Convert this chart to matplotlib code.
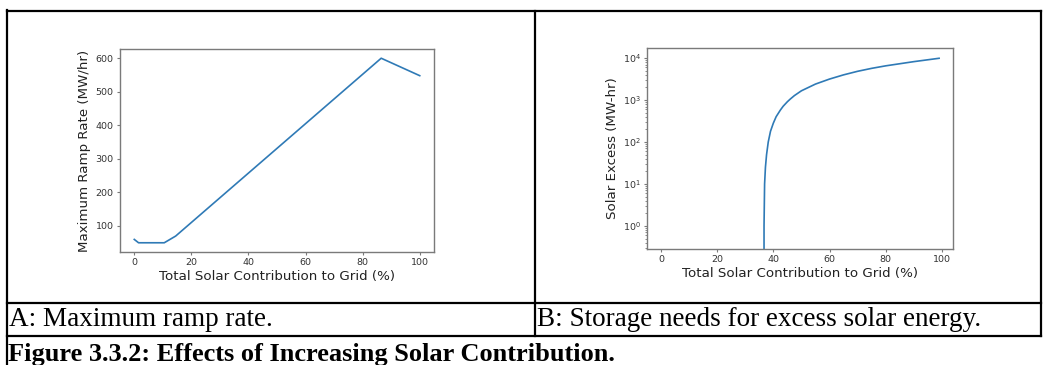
import numpy as np
import matplotlib.pyplot as plt
from matplotlib.lines import Line2D

# ramp rate vs. solar share (breakpoints of the piecewise curve)
ramp_share = [0, 1.5, 10.5, 14.5, 86.5, 100]
ramp_rate = [60, 50, 50, 70, 600, 548]

# solar excess vs. solar share (zero below ~36.6 %)
excess_share = [0, 36.6, 36.7, 36.9, 37.2, 37.6, 38.2, 39, 40, 41, 42.5,
                43.5, 45, 46, 47.5, 50, 55, 60, 65, 70, 75, 80, 90, 99]
excess_mwh = [0, 0, 1, 10, 25, 50, 100, 180, 280, 400, 575,
              710, 910, 1050, 1275, 1660, 2400, 3160, 3980, 4840, 5690,
              6530, 8220, 9890]

caption_a = 'A: Maximum ramp rate.'
caption_b = 'B: Storage needs for excess solar energy.'
fig_title = 'Figure 3.3.2: Effects of Increasing Solar Contribution.'

W, H = 1043, 365
fig = plt.figure(figsize=(W / 100, H / 100), dpi=100)

line_color = '#2f7ab6'
spine_color = '#7a7a7a'
label_kw = dict(fontsize=9.6, color='#222222')


def style(ax):
    for s in ax.spines.values():
        s.set_color(spine_color)
        s.set_linewidth(1.0)
    ax.tick_params(colors=spine_color, labelcolor='#333333', labelsize=6.8,
                   length=2.5, width=0.8, pad=2)
    ax.tick_params(which='minor', colors=spine_color, length=1.5, width=0.6)


def box(left, top, right, bottom):
    return [left / W, 1 - bottom / H, (right - left) / W, (bottom - top) / H]


# A: maximum ramp rate
ax1 = fig.add_axes(box(120, 49, 434, 252))
ax1.plot(ramp_share, ramp_rate, color=line_color, lw=1.2)
ax1.set_xlim(-5, 105)
ax1.set_ylim(22.5, 627.5)
ax1.set_xticks([0, 20, 40, 60, 80, 100])
ax1.set_yticks([100, 200, 300, 400, 500, 600])
ax1.set_xlabel('Total Solar Contribution to Grid (%)', labelpad=2, **label_kw)
ax1.set_ylabel('Maximum Ramp Rate (MW/hr)', labelpad=3, **label_kw)
style(ax1)

# B: solar excess on a log axis
ax2 = fig.add_axes(box(647, 48, 953, 249))
ax2.plot(excess_share, excess_mwh, color=line_color, lw=1.2)
ax2.set_yscale('log', nonpositive='clip')
ax2.set_xlim(-4.95, 103.95)
ax2.set_ylim(10 ** -0.55, 10 ** 4.24)
ax2.set_xticks([0, 20, 40, 60, 80, 100])
ax2.set_xlabel('Total Solar Contribution to Grid (%)', labelpad=2, **label_kw)
ax2.set_ylabel('Solar Excess (MW-hr)', labelpad=3, **label_kw)
style(ax2)

# table frame and captions drawn in pixel coordinates
frame = fig.add_axes([0, 0, 1, 1], zorder=-1)
frame.set_xlim(0, W)
frame.set_ylim(H, 0)
frame.axis('off')

rules = [
    ((7, 1041), (11, 11)),
    ((7, 1041), (303, 303)),
    ((7, 1041), (336, 336)),
    ((7, 7), (10, 365)),
    ((535, 535), (11, 336)),
    ((1041, 1041), (11, 336)),
]
for xs, ys in rules:
    frame.add_line(Line2D(xs, ys, color='black', lw=1.6,
                          solid_capstyle='projecting'))

frame.text(9, 320, caption_a, family='Liberation Serif', fontsize=19.5,
           va='center', ha='left')
frame.text(537, 320, caption_b, family='Liberation Serif', fontsize=19.5,
           va='center', ha='left')
frame.text(8, 354, fig_title, family='Liberation Serif', fontsize=19,
           fontweight='bold', va='center', ha='left')

fig.savefig('out.png', dpi=100)
